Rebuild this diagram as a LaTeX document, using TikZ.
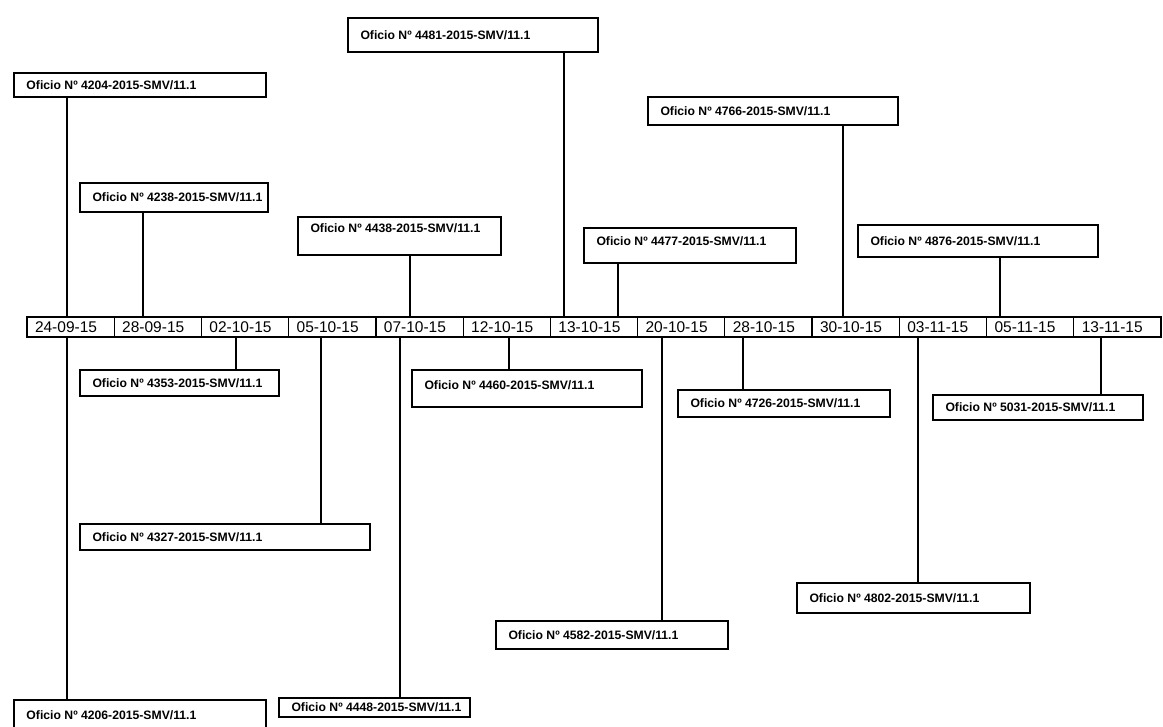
\documentclass[tikz,border=0pt]{standalone}
\usepackage{fontspec}
\setmainfont{Liberation Sans}
\tikzset{
  datecell/.style={draw, line width=1.2pt, anchor=west, minimum height=20pt,
    inner xsep=8pt, inner ysep=0pt, outer sep=0pt,
    font=\fontsize{15.5}{17}\selectfont},
  ofbox/.style={draw, line width=1.2pt, anchor=north west, inner xsep=12.5pt,
    inner ysep=0pt, outer sep=0pt, font=\fontsize{12.2}{14}\selectfont\bfseries},
  conn/.style={line width=1.2pt}
}
\newcommand\oftext[2]{\makebox[#1pt][l]{Oficio Nº #2-2015-SMV/11.1}}
\begin{document}
\begin{tikzpicture}[x=1pt,y=-1pt]
\useasboundingbox[fill=white] (0,0) rectangle (1163,727);
% date bar
\foreach \d [count=\i] in {24-09-15,28-09-15,02-10-15,05-10-15,07-10-15,12-10-15,13-10-15,20-10-15,28-10-15,30-10-15,03-11-15,05-11-15,13-11-15}{
  \node[datecell] (d\i) at ({27+(\i-1)*87.23},327) {\makebox[71.23pt][l]{\d}};
}
% boxes
\node[ofbox, minimum width=252pt, minimum height=24pt] (b1) at (14,73) {\oftext{227}{4204}};
\node[ofbox, minimum width=252pt, minimum height=31pt] (b2) at (14,700) {\oftext{227}{4206}};
\node[ofbox, minimum width=188pt, minimum height=29pt] (b3) at (80,183) {\oftext{163}{4238}};
\node[ofbox, minimum width=199pt, minimum height=26pt] (b4) at (80,370) {\oftext{174}{4353}};
\node[ofbox, minimum width=290pt, minimum height=26pt] (b5) at (80,524) {\oftext{265}{4327}};
\node[ofbox, minimum width=203pt, minimum height=38pt, text depth=16pt] (b6) at (298,217) {\oftext{178}{4438}};
\node[ofbox, minimum width=191pt, minimum height=19pt] (b7) at (279,698) {\oftext{166}{4448}};
\node[ofbox, minimum width=230pt, minimum height=37pt, text depth=7pt] (b8) at (412,370) {\oftext{205}{4460}};
\node[ofbox, minimum width=250pt, minimum height=34pt] (b9) at (348,18) {\oftext{225}{4481}};
\node[ofbox, minimum width=212pt, minimum height=35pt, text depth=9pt] (b10) at (584,228) {\oftext{187}{4477}};
\node[ofbox, minimum width=232pt, minimum height=28pt] (b11) at (496,621) {\oftext{207}{4582}};
\node[ofbox, minimum width=212pt, minimum height=27pt] (b12) at (678,390) {\oftext{187}{4726}};
\node[ofbox, minimum width=250pt, minimum height=28pt] (b13) at (648,97) {\oftext{225}{4766}};
\node[ofbox, minimum width=233pt, minimum height=30pt] (b14) at (797,583) {\oftext{208}{4802}};
\node[ofbox, minimum width=240pt, minimum height=32pt] (b15) at (858,225) {\oftext{215}{4876}};
\node[ofbox, minimum width=210pt, minimum height=25pt] (b16) at (933,395) {\oftext{185}{5031}};
% connectors: boxes above the bar
\foreach \b/\s/\c in {b1/53/d1, b3/63/d2, b6/112/d5, b9/216/d7, b10/34/d7, b13/195/d10, b15/142/d12}{
  \draw[conn] ([xshift=\s pt]\b.south west) -- ([xshift=\s pt]\b.south west |- \c.north);
}
% connectors: boxes below the bar
\foreach \b/\s/\c in {b2/53/d1, b4/156/d3, b5/241/d4, b7/121/d5, b8/97/d6, b11/166/d8, b12/65/d9, b14/121/d11, b16/168/d13}{
  \draw[conn] ([xshift=\s pt]\b.north west) -- ([xshift=\s pt]\b.north west |- \c.south);
}
\end{tikzpicture}
\end{document}
